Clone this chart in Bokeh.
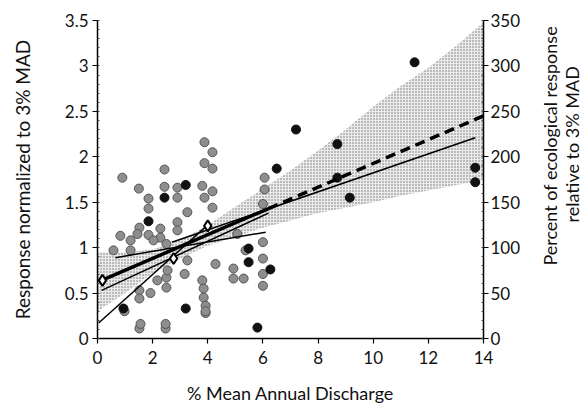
import math
from bokeh.plotting import figure
from bokeh.layouts import row
from bokeh.models import Range1d, LinearAxis, FixedTicker
from bokeh.embed import file_html
from bokeh.resources import INLINE

# ---- data ----
gray_x = [0.9, 1.5, 1.85, 2.43, 2.43, 2.9, 2.9, 3.88, 4.17, 3.88, 4.17, 3.8, 4.17, 3.88,
          6.06, 6.06, 1.85, 1.52, 0.83, 1.2, 1.45, 1.85, 2.28, 2.28, 2.9, 3.26, 4.17,
          0.58, 1.2, 2.03, 2.5, 3.26, 3.16, 2.5, 2.5, 2.17, 1.52, 1.52, 4.28, 3.8, 3.85,
          3.85, 3.92, 3.92, 4.93, 4.93, 5.3, 5.37, 6.0, 6.0, 6.0, 6.0, 6.0, 5.07, 0.98,
          1.52, 2.47, 3.92, 2.9, 1.56, 2.47, 2.54, 1.92]
gray_y = [1.77, 1.65, 1.54, 1.86, 1.67, 1.66, 1.55, 2.16, 2.05, 1.93, 1.87, 1.68, 1.62, 1.55,
          1.77, 1.64, 1.43, 1.22, 1.13, 1.08, 1.15, 1.14, 1.21, 1.11, 1.28, 1.39, 1.44,
          0.97, 0.97, 1.08, 1.04, 0.86, 0.71, 0.67, 0.56, 0.64, 0.53, 0.44, 0.82, 0.64, 0.55,
          0.45, 0.36, 0.28, 0.77, 0.66, 0.66, 0.97, 1.06, 0.88, 0.71, 0.58, 1.48, 1.15, 0.30,
          0.11, 0.11, 0.30, 1.19, 0.16, 0.16, 0.75, 0.50]

black_x = [3.2, 2.43, 1.85, 6.5, 7.2, 0.94, 3.2, 5.48, 5.48, 6.27, 5.8, 8.7, 8.7, 11.5,
           9.15, 13.7, 13.7]
black_y = [1.69, 1.55, 1.29, 1.87, 2.3, 0.33, 0.33, 0.99, 0.84, 0.76, 0.12, 2.14, 1.77, 3.04,
           1.55, 1.88, 1.72]

diamond_x = [0.18, 2.76, 4.0]
diamond_y = [0.64, 0.88, 1.24]

# confidence band of the main fit
band_x = [0, 1, 2, 3, 4, 5, 6, 7, 8, 9, 10, 11, 12, 13, 14]
band_upper = [0.95, 0.95, 0.98, 1.08, 1.25, 1.45, 1.65, 1.85, 2.07, 2.3, 2.55, 2.78, 2.98, 3.22, 3.48]
band_lower = [0.30, 0.50, 0.72, 0.88, 1.02, 1.12, 1.22, 1.30, 1.38, 1.44, 1.50, 1.57, 1.63, 1.69, 1.74]

# fitted lines (end points)
main_solid_x = [0.15, 6.2]
main_solid_y = [0.64, 1.43]
main_dash_x = [6.2, 14.0]
main_dash_y = [1.43, 2.45]
long_thin_x = [2.7, 13.7]
long_thin_y = [1.06, 2.21]
flat_x = [0.65, 6.1]
flat_y = [0.89, 1.17]
steep_x = [0.04, 4.0]
steep_y = [0.17, 1.25]
mid_x = [0.15, 6.2]
mid_y = [0.53, 1.38]

x_ticks = [0, 2, 4, 6, 8, 10, 12, 14]
y_ticks = [0, 0.5, 1, 1.5, 2, 2.5, 3, 3.5]
y_tick_labels = ["0", "0.5", "1", "1.5", "2", "2.5", "3", "3.5"]
right_ticks = [0, 50, 100, 150, 200, 250, 300, 350]
right_title = ["Percent of ecological response", "relative to 3% MAD"]

FONT = "Lato"
W, H = 530, 406
SIDE_W = 56

p = figure(width=W, height=H, output_backend="svg", toolbar_location=None,
           x_range=Range1d(0, 14), y_range=Range1d(0, 3.5),
           min_border_left=97, min_border_right=W - 483, min_border_top=20,
           min_border_bottom=H - 338)
p.outline_line_color = None
p.grid.visible = False
p.background_fill_color = "white"

# band
p.varea(x=band_x, y1=band_lower, y2=band_upper, fill_color="#ebebeb", fill_alpha=1.0,
        hatch_pattern="dot", hatch_color="#707070", hatch_scale=3, hatch_weight=0.6)

# points
p.scatter(gray_x, gray_y, size=9, marker="circle", fill_color="#8e8e8e",
          line_color="#555555", line_width=1)
p.scatter(black_x, black_y, size=9, marker="circle", fill_color="#111111",
          line_color="#111111")

# lines
p.line(steep_x, steep_y, line_color="black", line_width=1.5)
p.line(mid_x, mid_y, line_color="black", line_width=1.5)
p.line(flat_x, flat_y, line_color="black", line_width=1.5)
p.line(long_thin_x, long_thin_y, line_color="black", line_width=1.6)
p.line(main_solid_x, main_solid_y, line_color="black", line_width=3.5)
p.line(main_dash_x, main_dash_y, line_color="black", line_width=3.5, line_dash="10 6")

p.scatter(diamond_x, diamond_y, size=11, marker="diamond", fill_color="white",
          line_color="black", line_width=2)

# axes
ax_b = p.xaxis[0]
ax_b.ticker = FixedTicker(ticks=x_ticks)
ax_b.axis_label = "% Mean Annual Discharge"
ax_l = p.yaxis[0]
ax_l.ticker = FixedTicker(ticks=y_ticks, minor_ticks=[i * 0.1 for i in range(36)])
ax_l.major_label_overrides = {t: s for t, s in zip(y_ticks, y_tick_labels)}
ax_l.axis_label = "Response normalized to 3% MAD"

p.extra_y_ranges = {"pct": Range1d(0, 350)}
ax_r = LinearAxis(y_range_name="pct", ticker=FixedTicker(ticks=right_ticks,
                  minor_ticks=list(range(0, 351, 10))))
p.add_layout(ax_r, "right")

for ax in (ax_b, ax_l, ax_r):
    ax.axis_line_color = "black"
    ax.axis_line_width = 1.5
    ax.major_tick_line_color = "black"
    ax.major_tick_line_width = 1.2
    ax.major_tick_out = 5
    ax.major_tick_in = 0
    ax.minor_tick_out = 0
    ax.minor_tick_in = 2
    ax.minor_tick_line_color = "#444444"
    ax.major_label_text_font = FONT
    ax.major_label_text_font_size = "17px"
    ax.major_label_text_color = "#111111"
    ax.axis_label_text_font = FONT
    ax.axis_label_text_font_style = "normal"
    ax.axis_label_text_color = "#111111"
ax_b.axis_label_text_font_size = "18px"
ax_l.axis_label_text_font_size = "19px"
ax_b.minor_tick_line_color = None
ax_b.major_label_standoff = 7
ax_b.axis_label_standoff = 15
ax_l.major_label_standoff = 4
ax_l.axis_label_standoff = 28
ax_r.major_label_standoff = 2

# right-hand title: a narrow panel in pixel units, two lines reading bottom to top
side = figure(width=SIDE_W, height=H, output_backend="svg", toolbar_location=None,
              x_range=Range1d(0, SIDE_W), y_range=Range1d(0, H),
              x_axis_location=None, y_axis_location=None,
              min_border=0, min_border_left=0, min_border_right=0,
              min_border_top=0, min_border_bottom=0)
side.outline_line_color = None
side.grid.visible = False
side.text(x=[19, 41], y=[H - 160, H - 158], text=right_title, angle=math.pi / 2,
          text_align="center", text_baseline="middle", text_font={"value": FONT},
          text_font_size="18px", text_color="#111111")

layout = row(p, side, spacing=0)
open("out.html", "w").write(file_html(layout, INLINE))
